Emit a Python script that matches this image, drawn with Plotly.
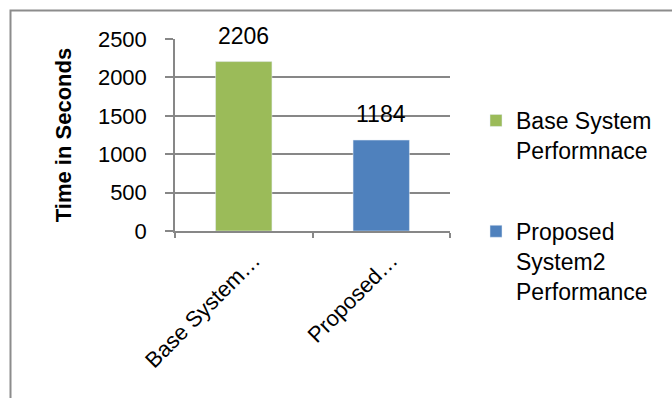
import plotly.graph_objects as go

# Data
categories = ["Base System Performnace", "Proposed System2 Performance"]
tick_labels = ["Base System…", "Proposed…"]
legend_names = ["Base System<br>Performnace", "Proposed<br>System2<br>Performance"]
values = [2206, 1184]
colors = ["#9BBB59", "#4F81BD"]

FONT = "Liberation Sans"
W, H = 672, 398
L, R, T, B = 175, 222, 39, 167
pw, ph = W - L - R, H - T - B

fig = go.Figure()
for i, (cat, name, val, col) in enumerate(zip(categories, legend_names, values, colors)):
    fig.add_trace(go.Bar(
        x=[cat], y=[val], name=name, marker_color=col,
        legendgroup=f"g{i}", width=0.41,
    ))
    fig.add_annotation(
        x=cat, y=val, text=str(val), showarrow=False,
        yanchor="bottom", yshift=11,
        font=dict(family=FONT, size=23, color="#000"),
    )

def px_x(p):
    return (p - L) / pw

def px_y(p):
    return (H - B - p) / ph

# chart border (left and top edges visible)
fig.add_shape(type="path", xref="paper", yref="paper",
              path=f"M {px_x(10.5)},{px_y(400)} L {px_x(10.5)},{px_y(10.5)} L {px_x(680)},{px_y(10.5)}",
              line=dict(color="#8c8c8c", width=2), layer="below")

fig.update_layout(
    width=W, height=H,
    margin=dict(l=L, r=R, t=T, b=B, autoexpand=False),
    paper_bgcolor="white", plot_bgcolor="white",
    font=dict(family=FONT, size=22, color="#000"),
    barmode="group",
    showlegend=True,
    legend=dict(
        x=px_x(476), y=px_y(99), xanchor="left", yanchor="top",
        valign="top", tracegroupgap=48, traceorder="grouped",
        maxheight=400,
        font=dict(family=FONT, size=23, color="#000"),
        bgcolor="rgba(0,0,0,0)",
    ),
    xaxis=dict(
        type="category", categoryorder="array", categoryarray=categories,
        tickmode="array", tickvals=categories, ticktext=tick_labels,
        tickangle=-45, tickson="boundaries", ticks="outside", ticklen=5,
        tickcolor="#878787", tickwidth=1.5,
        showline=True, linecolor="#878787", linewidth=1.5,
        showgrid=False, automargin=False,
        ticklabelshift=10, ticklabelstandoff=6,
        tickfont=dict(family=FONT, size=22, color="#000"),
    ),
    yaxis=dict(
        range=[0, 2500], dtick=500, tick0=0,
        ticks="outside", ticklen=8, tickcolor="#878787", tickwidth=1.5,
        showline=True, linecolor="#878787", linewidth=1.5,
        showgrid=True, gridcolor="#878787", gridwidth=1.5,
        zeroline=False, automargin=False,
        ticklabelstandoff=14,
        tickfont=dict(family=FONT, size=22, color="#000"),
        title=dict(text="<b>Time in Seconds</b>", standoff=20,
                   font=dict(family=FONT, size=22, color="#000")),
    ),
)

fig.write_html("out.html")
